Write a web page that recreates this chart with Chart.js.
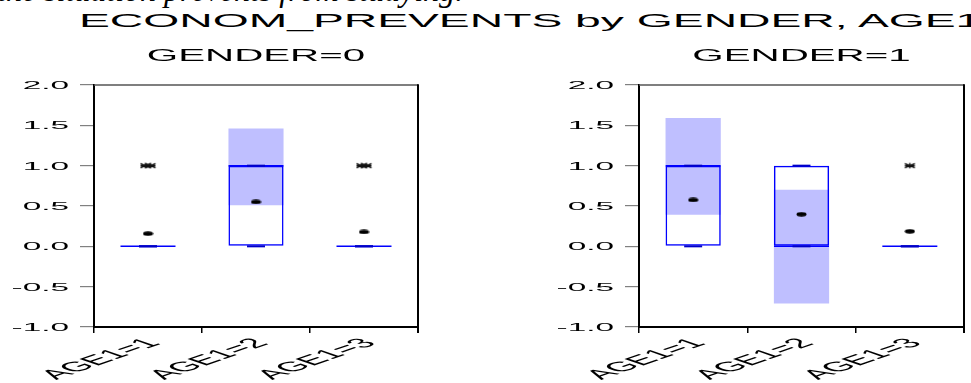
<!DOCTYPE html>
<html>
<head>
<meta charset="utf-8">
<script src="https://cdn.jsdelivr.net/npm/chart.js@4.4.1/dist/chart.umd.min.js"></script>
<style>
  html, body { margin: 0; padding: 0; background: #fff; overflow: hidden; }
  #page { position: relative; width: 971px; height: 383px; overflow: hidden; background: #fff; }
  #note { position: absolute; left: -3px; top: -26px; font: italic 32px/32px "Liberation Serif", serif; white-space: nowrap; color: #000; }
  #title { position: absolute; left: 79px; top: 12px; font: 18px/18px "Liberation Sans", Arial, sans-serif; white-space: nowrap; color: #000;
           transform: scaleX(2.57); transform-origin: 0 0; }
  canvas { position: absolute; top: 0; }
  #c0 { left: 0; }
  #c1 { left: 480px; }
</style>
</head>
<body>
<div id="page">
  <div id="note">the situation prevents from studying.</div>
  <div id="title">ECONOM_PREVENTS by GENDER, AGE1</div>
  <canvas id="c0" width="480" height="383"></canvas>
  <canvas id="c1" width="491" height="383"></canvas>
</div>
<script>
// Categories and axis
const categories = ['AGE1=1', 'AGE1=2', 'AGE1=3'];
const yMin = -1.0;
const yMax = 2.0;
const yStep = 0.5;

// GENDER=0 box-plot statistics
const g0Q1 = [0, 0, 0];
const g0Q3 = [0, 1, 0];
const g0Median = [0, 1, 0];
const g0Mean = [0.157, 0.55, 0.178];
const g0CiLow = [0, 0.51, 0];
const g0CiHigh = [0, 1.46, 0];
const g0WhiskerLow = [0, 0, 0];
const g0WhiskerHigh = [0, 1, 0];
const g0Outlier = [1, null, 1];
const g0OutlierCount = [2, 0, 2];

// GENDER=1 box-plot statistics
const g1Q1 = [0, 0, 0];
const g1Q3 = [1, 1, 0];
const g1Median = [1, 0, 0];
const g1Mean = [0.575, 0.397, 0.186];
const g1CiLow = [0.39, -0.71, 0];
const g1CiHigh = [1.59, 0.70, 0];
const g1WhiskerLow = [0, 0, 0];
const g1WhiskerHigh = [1, 1, 0];
const g1Outlier = [null, null, 1];
const g1OutlierCount = [0, 0, 1];

const FONT = '"Liberation Sans", Arial, sans-serif';
const BLUE = '#0000ff';
const SHADE = '#bfbfff';

// Mean marker: small flattened black ellipse
function makeMeanMarker() {
  const c = document.createElement('canvas');
  c.width = 11; c.height = 5;
  const g = c.getContext('2d');
  g.fillStyle = '#000';
  g.beginPath();
  g.ellipse(5.5, 2.5, 5, 2.2, 0, 0, Math.PI * 2);
  g.fill();
  return c;
}

// Outlier marker: one or two wide asterisks
function makeStarMarker(n) {
  const w = n === 2 ? 17 : 13, h = 7;
  const c = document.createElement('canvas');
  c.width = w; c.height = h;
  const g = c.getContext('2d');
  g.strokeStyle = '#111';
  g.lineWidth = 1.4;
  const centers = n === 2 ? [6, 11] : [6.5];
  centers.forEach(cx => {
    const cy = 3.5;
    g.beginPath();
    g.moveTo(cx, cy - 2.8); g.lineTo(cx, cy + 2.8);
    g.moveTo(cx - 5, cy - 2.2); g.lineTo(cx + 5, cy + 2.2);
    g.moveTo(cx - 5, cy + 2.2); g.lineTo(cx + 5, cy - 2.2);
    g.moveTo(cx - 5, cy); g.lineTo(cx + 5, cy);
    g.stroke();
  });
  return c;
}

const meanMarker = makeMeanMarker();
const starMarkers = { 1: makeStarMarker(1), 2: makeStarMarker(2) };

// Text drawn with a horizontal stretch (and optional rotation)
function wideText(ctx, text, x, y, size, sx, align, baseline, angle) {
  ctx.save();
  ctx.translate(x, y);
  ctx.scale(sx, 1);
  if (angle) ctx.rotate(angle);
  ctx.font = size + 'px ' + FONT;
  ctx.fillStyle = '#000';
  ctx.textAlign = align;
  ctx.textBaseline = baseline;
  ctx.fillText(text, 0, 0);
  ctx.restore();
}

// Panel frame, heading and axis labels
const panelDecor = {
  id: 'panelDecor',
  afterDraw(chart, args, opts) {
    const ctx = chart.ctx;
    const a = chart.chartArea;
    const xs = chart.scales.x, ys = chart.scales.y;
    ctx.save();
    // top and right frame
    ctx.strokeStyle = '#555';
    ctx.lineWidth = 1.5;
    ctx.beginPath();
    ctx.moveTo(a.left, a.top); ctx.lineTo(a.right, a.top);
    ctx.stroke();
    ctx.strokeStyle = '#000';
    ctx.lineWidth = 2;
    ctx.beginPath();
    ctx.moveTo(a.right, a.top - 0.75); ctx.lineTo(a.right, a.bottom + 6);
    ctx.stroke();
    ctx.restore();

    // panel heading
    wideText(ctx, opts.heading, (a.left + a.right) / 2, 61, 17, 2.37, 'center', 'alphabetic', 0);

    // y tick labels
    ys.ticks.forEach((t, i) => {
      const py = ys.getPixelForTick(i);
      wideText(ctx, t.value.toFixed(1), a.left - 25, py + 4, 11.5, 2.9, 'right', 'alphabetic', 0);
    });

    // x category labels, slanted
    categories.forEach((c, i) => {
      const px = xs.getPixelForValue(i);
      wideText(ctx, c, px + 6, a.bottom + 14, 13.5, 2.9, 'right', 'middle', -Math.PI / 4);
    });
  }
};

function buildPanel(canvasId, heading, s, pad) {
  const pair = (lo, hi) => categories.map((_, i) => [lo[i], hi[i]]);
  return new Chart(document.getElementById(canvasId), {
    type: 'bar',
    data: {
      labels: categories,
      datasets: [
        { // means
          type: 'line', label: 'Mean', data: s.mean, showLine: false,
          pointStyle: meanMarker, order: 0
        },
        { // outliers
          type: 'line', label: 'Outliers', data: s.outlier, showLine: false,
          pointStyle: s.outlierCount.map(n => starMarkers[n] || starMarkers[1]), order: 1
        },
        { // whisker staples (upper)
          type: 'line', label: 'Whisker hi', data: s.whHi, showLine: false,
          pointStyle: 'line', pointRadius: 9, borderColor: '#0000c8', borderWidth: 2, order: 2
        },
        { // whisker staples (lower)
          type: 'line', label: 'Whisker lo', data: s.whLo, showLine: false,
          pointStyle: 'line', pointRadius: 9, borderColor: '#0000c8', borderWidth: 2, order: 2
        },
        { // medians
          type: 'line', label: 'Median', data: s.median, showLine: false,
          pointStyle: 'line', pointRadius: 27.5, borderColor: BLUE, borderWidth: 1.5, order: 3
        },
        { // interquartile boxes
          label: 'Box', data: pair(s.q1, s.q3), grouped: false,
          backgroundColor: 'rgba(0,0,0,0)', borderColor: BLUE, borderWidth: 1.5,
          borderSkipped: false, barPercentage: 0.51, categoryPercentage: 1, order: 4
        },
        { // shaded median confidence band
          label: 'Median CI', data: pair(s.ciLo, s.ciHi), grouped: false,
          backgroundColor: SHADE, borderWidth: 0,
          barPercentage: 0.51, categoryPercentage: 1, order: 5
        }
      ]
    },
    options: {
      responsive: false,
      animation: false,
      events: [],
      devicePixelRatio: 1,
      layout: { padding: pad, autoPadding: false },
      plugins: {
        legend: { display: false },
        tooltip: { enabled: false },
        title: { display: false },
        panelDecor: { heading }
      },
      scales: {
        x: {
          type: 'category', offset: true,
          grid: { display: true, drawOnChartArea: false, offset: true, drawTicks: true, tickLength: 6, color: '#000', lineWidth: 1.5 },
          border: { display: true, color: '#000', width: 2 },
          ticks: { display: false },
          afterFit(sc) { sc.height = 6; }
        },
        y: {
          type: 'linear', min: yMin, max: yMax,
          grid: { display: true, drawOnChartArea: false, drawTicks: true, tickLength: 14, color: '#808080', lineWidth: 1.2 },
          border: { display: true, color: '#000', width: 2 },
          ticks: { display: false, stepSize: yStep },
          afterFit(sc) { sc.width = 14; }
        }
      }
    },
    plugins: [panelDecor]
  });
}

buildPanel('c0', 'GENDER=0', {
  q1: g0Q1, q3: g0Q3, median: g0Median, mean: g0Mean,
  ciLo: g0CiLow, ciHi: g0CiHigh, whLo: g0WhiskerLow, whHi: g0WhiskerHigh,
  outlier: g0Outlier, outlierCount: g0OutlierCount
}, { left: 80, right: 62, top: 85, bottom: 50 });

buildPanel('c1', 'GENDER=1', {
  q1: g1Q1, q3: g1Q3, median: g1Median, mean: g1Mean,
  ciLo: g1CiLow, ciHi: g1CiHigh, whLo: g1WhiskerLow, whHi: g1WhiskerHigh,
  outlier: g1Outlier, outlierCount: g1OutlierCount
}, { left: 145, right: 7, top: 85, bottom: 50 });
</script>
</body>
</html>
